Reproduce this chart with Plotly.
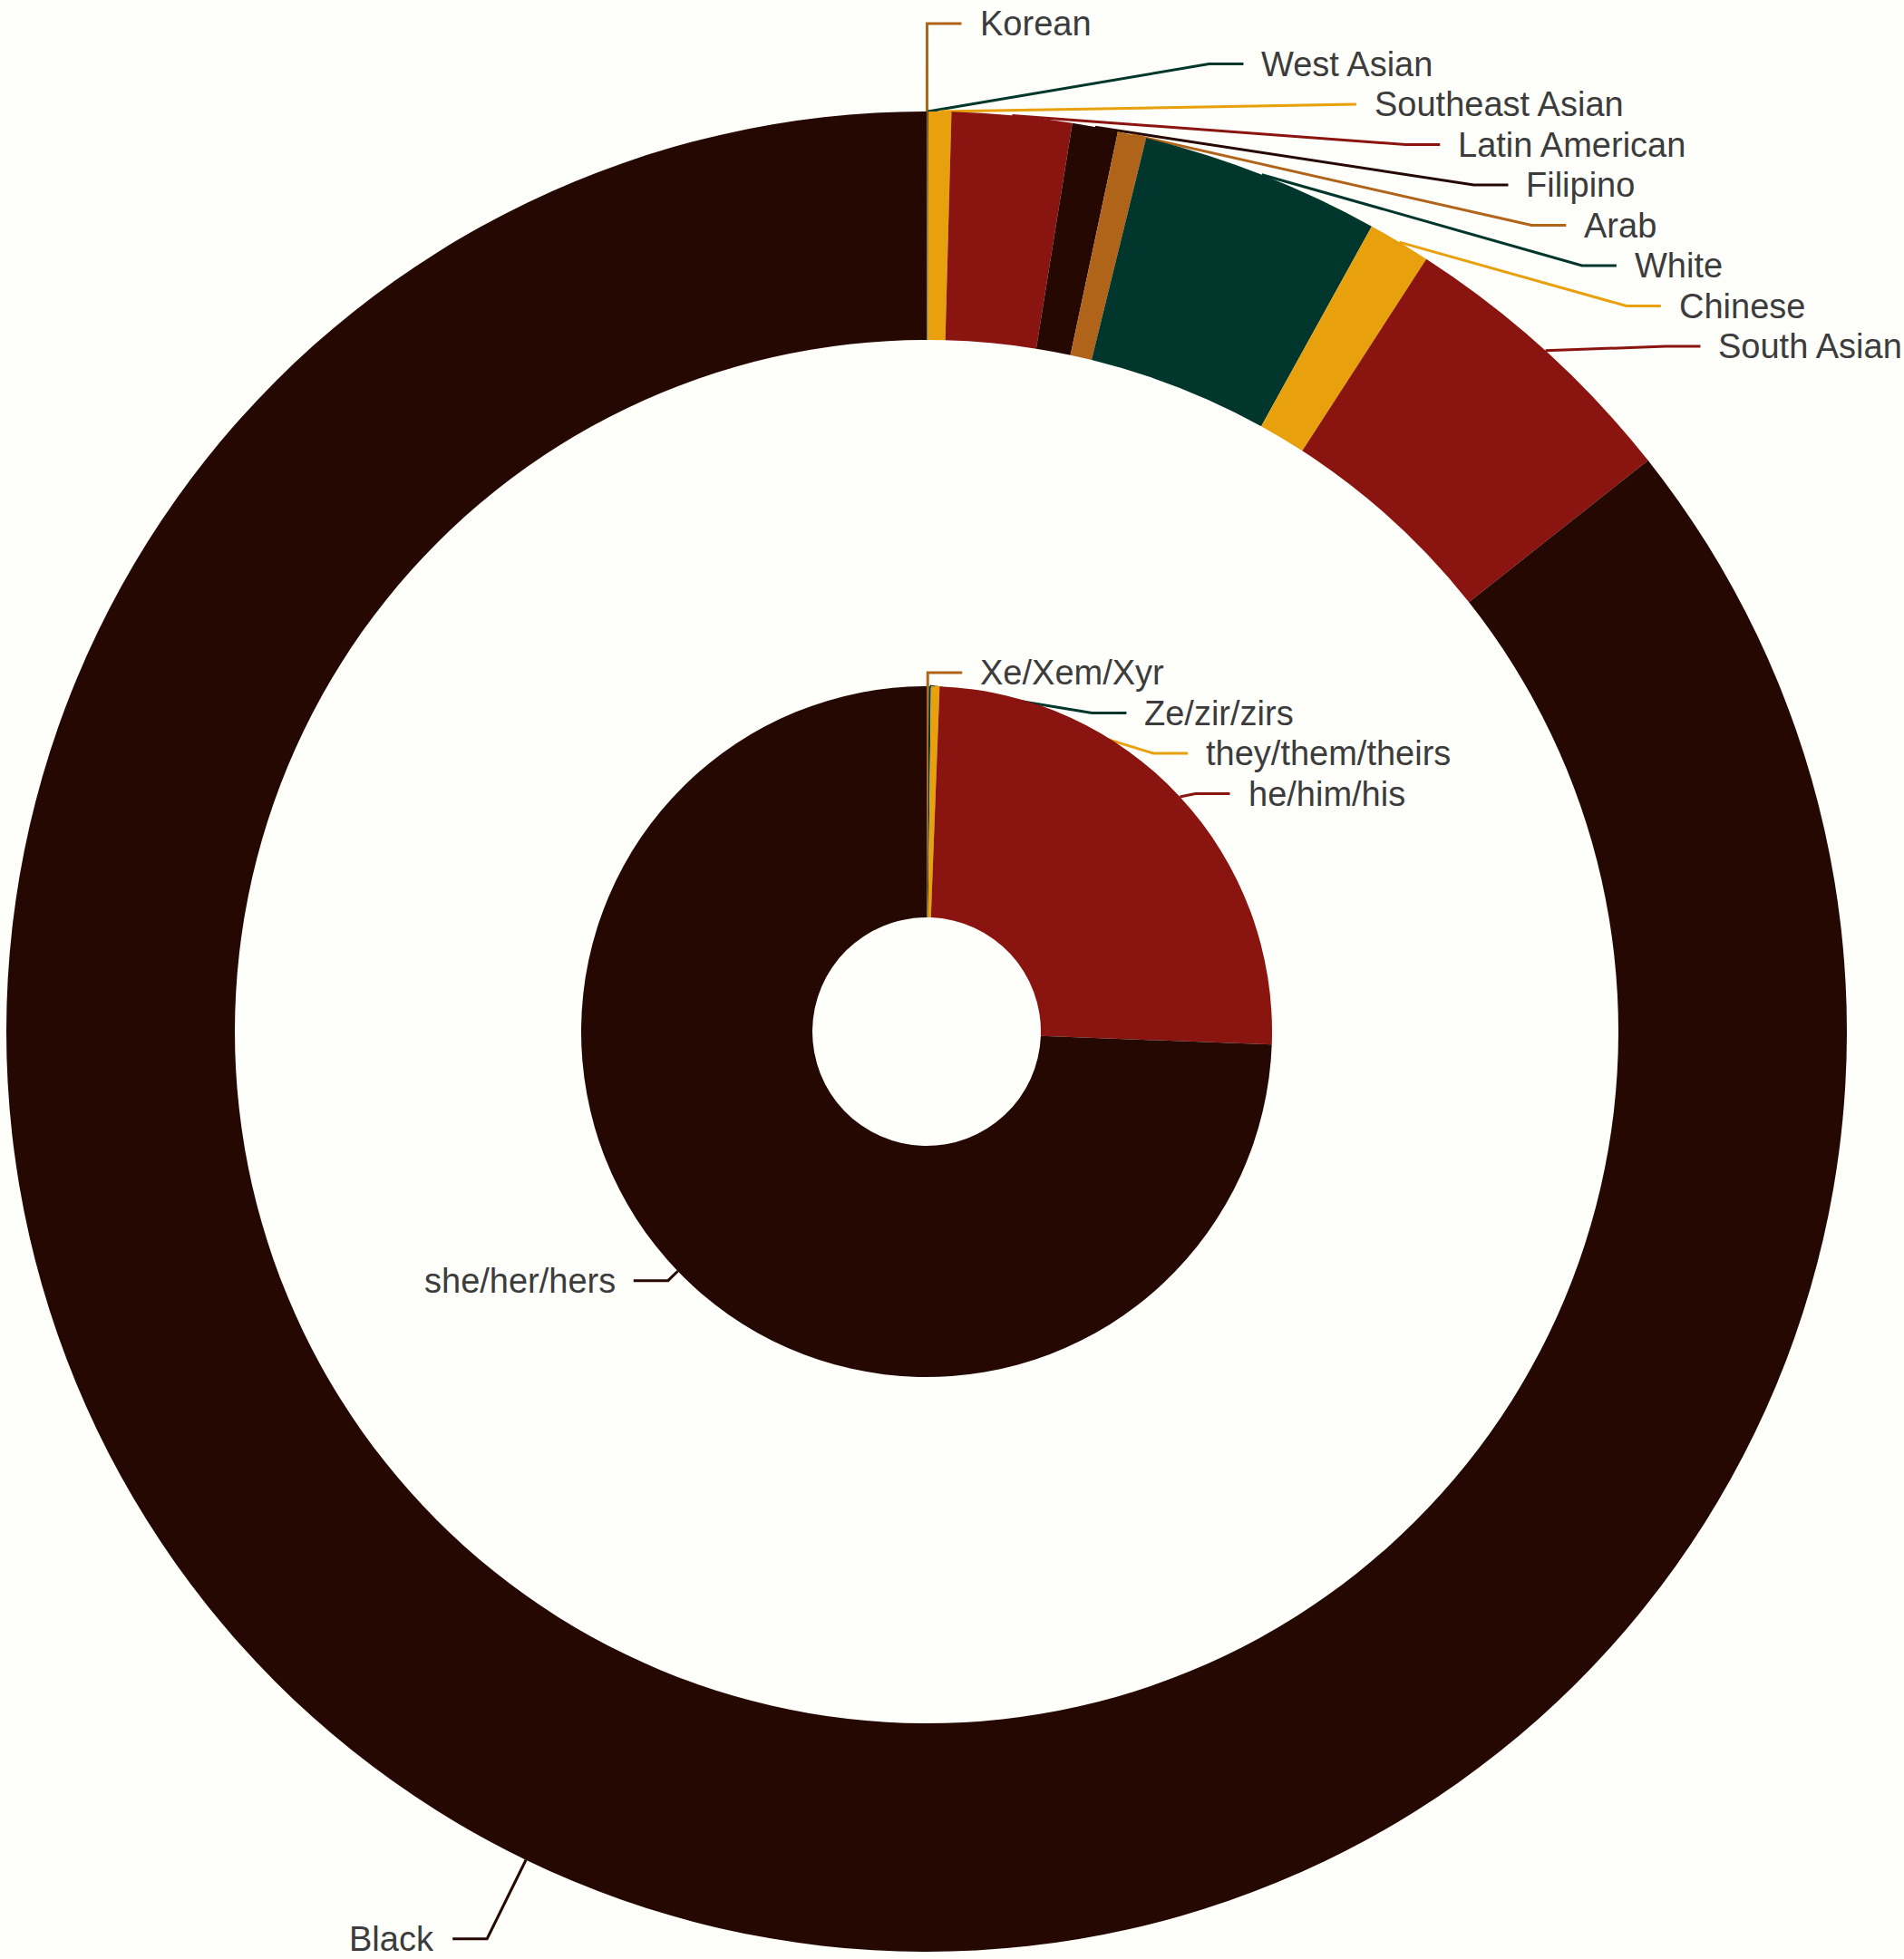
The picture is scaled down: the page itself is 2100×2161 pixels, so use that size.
import math
import plotly.graph_objects as go

# ---------------- data ----------------
outer_labels = ["Korean", "West Asian", "Southeast Asian", "Latin American", "Filipino",
                "Arab", "White", "Chinese", "South Asian", "Black"]
outer_values = [0.15, 0.15, 4, 21, 8, 5, 42, 11, 52, 856]

inner_labels = ["Xe/Xem/Xyr", "Ze/zir/zirs", "they/them/theirs", "he/him/his", "she/her/hers"]
inner_values = [1, 1, 4, 250, 744]

# ---------------- style ----------------
DARK, RED, ORANGE, GREEN, BROWN = "#250802", "#8a1410", "#e8a00c", "#00362b", "#b0641a"
outer_colors = [BROWN, GREEN, ORANGE, RED, DARK, BROWN, GREEN, ORANGE, RED, DARK]
inner_colors = [BROWN, GREEN, ORANGE, RED, DARK]

W, H = 2100, 2161
CX, CY = 1022, 1138
R_OUT, R_OUT_HOLE = 1015, 763
R_IN, R_IN_HOLE = 381, 126
BG = "#fefefa"
FONT = "Liberation Sans, Arial, Helvetica, sans-serif"
LH = 44.5


def domain(r):
    return dict(x=[(CX - r) / W, (CX + r) / W],
                y=[(H - CY - r) / H, (H - CY + r) / H])


def label_layout(values, r, len1, len2=38, gap=18):
    total = float(sum(values))
    cum = 0.0
    items = []
    for i, v in enumerate(values):
        mid = (cum + v / 2.0) / total * 2 * math.pi
        cum += v
        sx, sy = math.sin(mid), -math.cos(mid)
        items.append(dict(i=i, ax=CX + r * sx, ay=CY + r * sy,
                          ey=CY + (r + len1) * sy,
                          side=1 if sx >= 0 else -1))
    re = r + len1
    for side in (1, -1):
        grp = sorted([it for it in items if it["side"] == side], key=lambda it: it["ey"])
        last = None
        for it in grp:
            if last is not None and it["ey"] < last + LH:
                it["ey"] = last + LH
            last = it["ey"]
        if grp:
            over = grp[-1]["ey"] + LH / 2 - H
            if over > 0:
                for it in grp:
                    it["ey"] -= over
        for it in grp:
            dy = it["ey"] - CY
            it["ex"] = CX + side * math.sqrt(max(re * re - dy * dy, 0.0))
            it["lx"] = it["ex"] + side * len2
            it["tx"] = it["lx"] + side * gap
    return items


fig = go.Figure()

fig.add_trace(go.Pie(labels=outer_labels, values=outer_values, hole=R_OUT_HOLE / R_OUT,
                     sort=False, direction="clockwise", rotation=0,
                     marker=dict(colors=outer_colors, line=dict(width=0)),
                     textinfo="none", domain=domain(R_OUT), showlegend=False,
                     hoverinfo="label+value"))
fig.add_trace(go.Pie(labels=inner_labels, values=inner_values, hole=R_IN_HOLE / R_IN,
                     sort=False, direction="clockwise", rotation=0,
                     marker=dict(colors=inner_colors, line=dict(width=0)),
                     textinfo="none", domain=domain(R_IN), showlegend=False,
                     hoverinfo="label+value"))

annotations = []
for labels, values, colors, r, len1 in [
        (outer_labels, outer_values, outer_colors, R_OUT, 97),
        (inner_labels, inner_values, inner_colors, R_IN, 15)]:
    for it in label_layout(values, r, len1):
        c = colors[it["i"]]
        fig.add_trace(go.Scatter(x=[it["ax"], it["ex"], it["lx"]],
                                 y=[it["ay"], it["ey"], it["ey"]],
                                 mode="lines", line=dict(color=c, width=3),
                                 hoverinfo="skip", showlegend=False))
        annotations.append(dict(x=it["tx"], y=it["ey"], xref="x", yref="y",
                                text=labels[it["i"]], showarrow=False,
                                xanchor="left" if it["side"] == 1 else "right",
                                yanchor="middle",
                                font=dict(family=FONT, size=38, color="#3c3c3c")))

fig.update_layout(
    width=W, height=H,
    margin=dict(l=0, r=0, t=0, b=0),
    paper_bgcolor=BG, plot_bgcolor="rgba(0,0,0,0)",
    showlegend=False,
    xaxis=dict(range=[0, W], visible=False, fixedrange=True, domain=[0, 1]),
    yaxis=dict(range=[H, 0], visible=False, fixedrange=True, domain=[0, 1]),
    annotations=annotations,
)

fig.write_html("out.html")
